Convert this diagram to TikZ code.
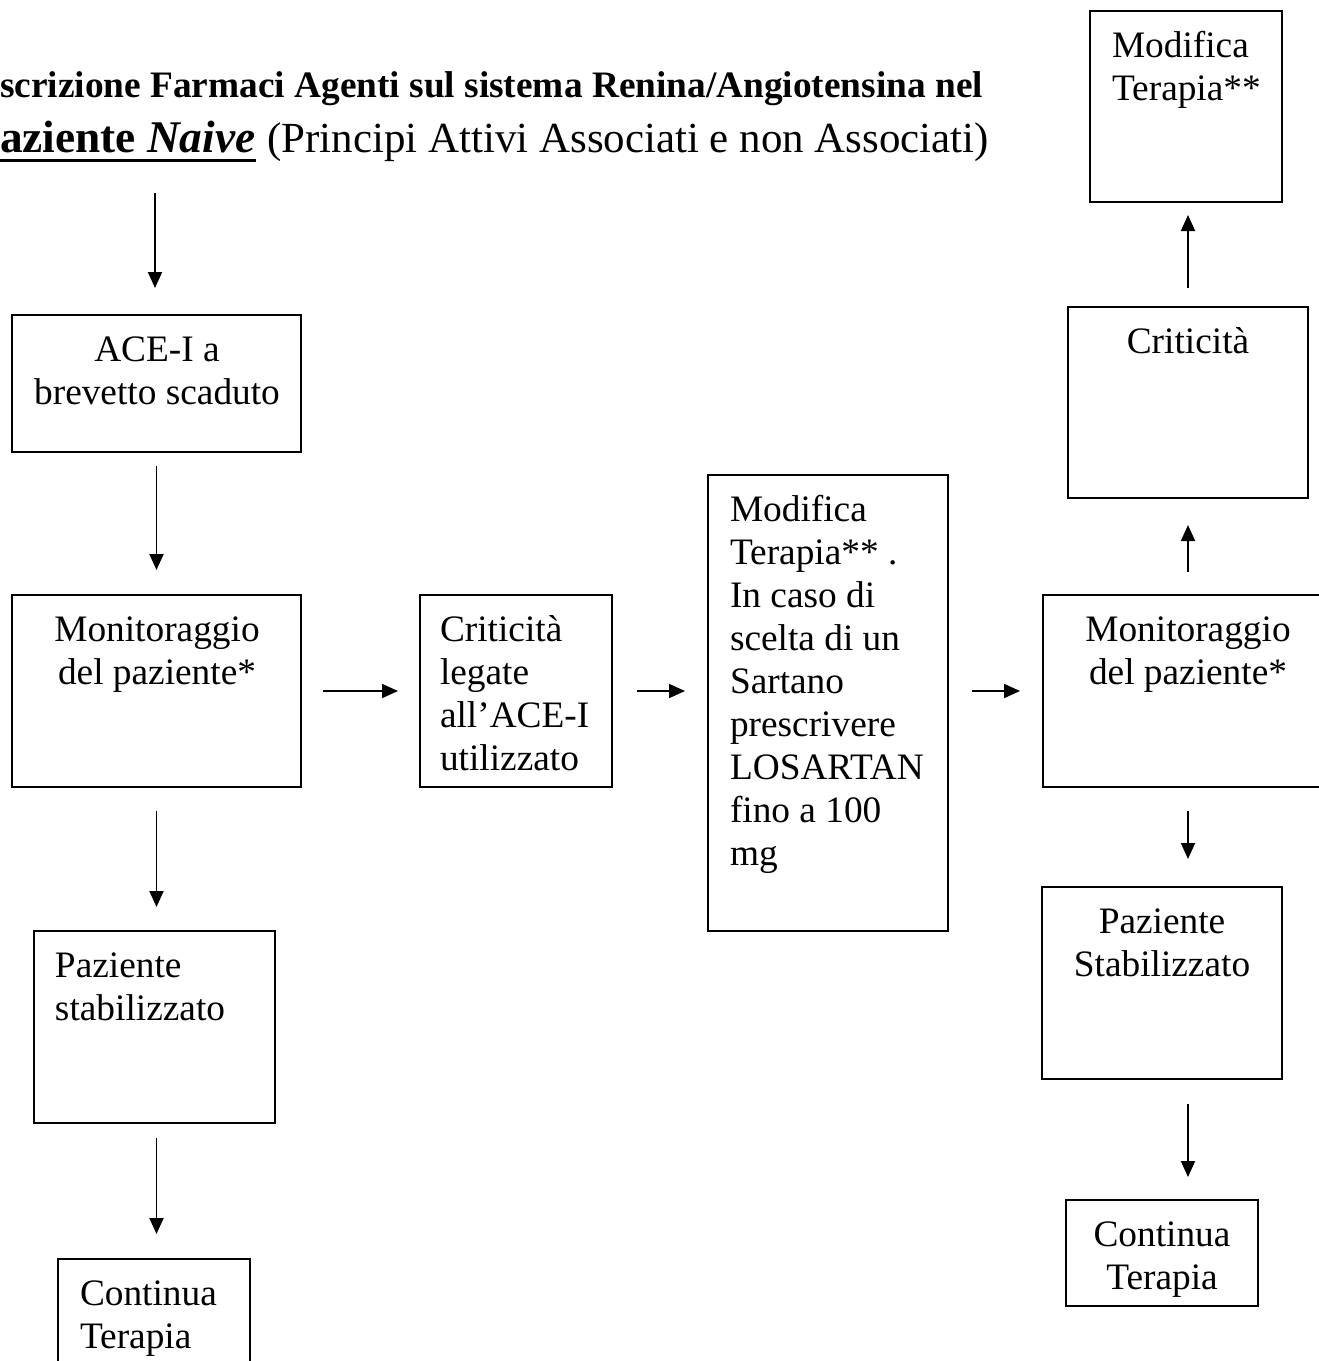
\documentclass[tikz,border=0pt]{standalone}
\usepackage{fontspec}
\setmainfont{Liberation Serif}
\usetikzlibrary{arrows.meta,calc}
\newcommand\bodyfont{\fontsize{28pt}{32.25pt}\selectfont}
\newcommand\boxnode[5]{\node[box, minimum width={(#4-#2)*0.75pt}, minimum height={(#5-#3)*0.75pt}] (#1) at ({(#2+#4)/2},{(#3+#5)/2}) {};}
\newcommand\txtC[4]{\node[txt, align=center, anchor=north] (#1) at (#2,{#3-30.1}) {\strut #4};}
\newcommand\txtL[4]{\node[txt, align=left, anchor=north west] (#1) at (#2,{#3-30.1}) {\strut #4};}
\begin{document}
\begin{tikzpicture}[x=0.75pt,y=-0.75pt,
  box/.style={draw, line width=1.4pt, inner sep=0pt, outer sep=0pt},
  txt/.style={inner sep=0pt, outer sep=0pt, font=\bodyfont},
  arr/.style={line width=1.4pt, -{Triangle[length=12pt,width=10.5pt]}},
  ttl/.style={anchor=base west, inner sep=0pt, outer sep=0pt}]
\path[use as bounding box] (0,0) rectangle (1319,1361);
\clip (0,0) rectangle (1319,1361);

% title
\node[ttl, font=\fontsize{28pt}{32pt}\selectfont\bfseries] (t1) at (0,97) {scrizione Farmaci Agenti sul sistema Renina/Angiotensina nel};
\node[ttl, font=\fontsize{34pt}{38pt}\selectfont\bfseries] (t2a) at (0,152) {aziente \textit{Naive}};
\node[ttl, font=\fontsize{32.2pt}{38pt}\selectfont] (t2b) at ($(t2a.base east)+(12,0)$) {(Principi Attivi Associati e non Associati)};
\draw[line width=2.25pt] ($(t2a.base west)+(0,8)$) -- ($(t2a.base east)+(0,8)$);

% boxes
\boxnode{ace}{12}{315}{301}{452}
\boxnode{mon1}{12}{595}{301}{787}
\boxnode{pz1}{34}{931}{275}{1123}
\boxnode{cont1}{58}{1259}{250}{1400}
\boxnode{crit1}{420}{595}{612}{787}
\boxnode{mod}{708}{475}{948}{931}
\boxnode{mon2}{1043}{595}{1332}{787}
\boxnode{crit2}{1068}{307}{1308}{498}
\boxnode{mod2}{1090}{11}{1282}{202}
\boxnode{pz2}{1042}{887}{1282}{1079}
\boxnode{cont2}{1066}{1200}{1258}{1306}

% texts
\txtC{acet}{157}{361}{ACE-I a\\brevetto scaduto}
\txtC{mon1t}{157}{641}{Monitoraggio\\del paziente*}
\txtL{pz1t}{55}{977}{Paziente\\stabilizzato}
\txtL{cont1t}{80}{1305}{Continua\\Terapia}
\txtL{crit1t}{440}{641}{Criticità\\legate\\all’ACE-I\\utilizzato}
\txtL{modt}{730}{521}{Modifica\\Terapia** .\\In caso di\\scelta di un\\Sartano\\prescrivere\\LOSARTAN\\fino a 100\\mg}
\txtC{mon2t}{1188}{641}{Monitoraggio\\del paziente*}
\txtC{crit2t}{1188}{353}{Criticità}
\txtL{mod2t}{1112}{57}{Modifica\\Terapia**}
\txtC{pz2t}{1162}{933}{Paziente\\Stabilizzato}
\txtC{cont2t}{1162}{1246}{Continua\\Terapia}

% connectors
\coordinate (s0) at (155,193);
\draw[arr, shorten >=20.25pt] (s0) -- (s0 |- ace.north);
\draw[arr, shorten <=10.5pt, shorten >=18.75pt] (ace.south) -- (ace.south |- mon1.north);
\draw[arr, shorten <=18pt, shorten >=18pt] (mon1.south) -- (mon1.south |- pz1.north);
\draw[arr, shorten <=11.25pt, shorten >=18.75pt] (mon1.south |- pz1.south) -- (mon1.south |- cont1.north);
\draw[arr, shorten <=16.5pt, shorten >=16.5pt] (mon1.east) -- (crit1.west);
\draw[arr, shorten <=18.75pt, shorten >=17.25pt] (crit1.east) -- (crit1.east -| mod.west);
\draw[arr, shorten <=18pt, shorten >=17.25pt] (mon2.west -| mod.east) -- (mon2.west);
\draw[arr, shorten <=17.25pt, shorten >=20.25pt] (crit2.south |- mon2.north) -- (crit2.south);
\draw[arr, shorten <=14.25pt, shorten >=9.75pt] (crit2.north) -- (crit2.north |- mod2.south);
\draw[arr, shorten <=18pt, shorten >=21pt] (crit2.south |- mon2.south) -- (crit2.south |- pz2.north);
\draw[arr, shorten <=18.75pt, shorten >=17.25pt] (crit2.south |- pz2.south) -- (crit2.south |- cont2.north);
\end{tikzpicture}
\end{document}
